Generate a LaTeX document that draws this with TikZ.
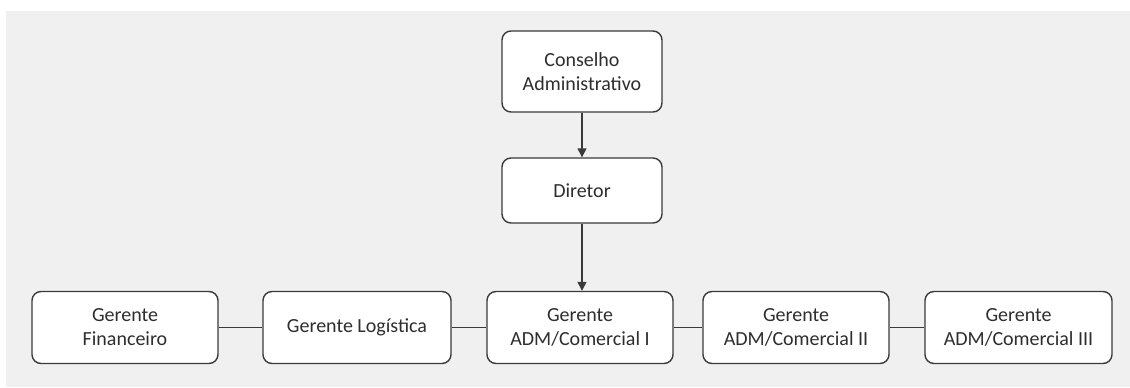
\documentclass[tikz,border=0pt]{standalone}
\usepackage{fontspec}
\setmainfont{Carlito}
\usetikzlibrary{arrows.meta}
\definecolor{bggray}{HTML}{F0F0F0}
\definecolor{linegray}{HTML}{3A3A3A}
\definecolor{textgray}{HTML}{2E2E2E}
\tikzset{
  orgbox/.style={draw=linegray, line width=1.4pt, fill=white, rounded corners=9pt,
    inner sep=0pt, align=center, text=textgray,
    font=\fontsize{20pt}{24pt}\selectfont},
  link/.style={draw=linegray, line width=1.4pt},
  arr/.style={link, -{Triangle[width=9pt,length=9pt]}}
}
\begin{document}
\begin{tikzpicture}[x=1pt,y=-1pt]
\useasboundingbox (0,0) rectangle (1130,388);
\fill[bggray] (6,11) rectangle (1130,387);
\node[orgbox, minimum width=160pt, minimum height=81pt] (cons) at (582,71.5) {Conselho\\Administrativo};
\node[orgbox, minimum width=160pt, minimum height=65pt] (dir) at (582,190.5) {Diretor};
\node[orgbox, minimum width=186pt, minimum height=72pt] (fin) at (125,327.5) {Gerente\\Financeiro};
\node[orgbox, minimum width=188pt, minimum height=72pt] (log) at (357,327.5) {Gerente Logística};
\node[orgbox, minimum width=186pt, minimum height=72pt] (c1) at (580,327.5) {Gerente\\ADM/Comercial I};
\node[orgbox, minimum width=186pt, minimum height=72pt] (c2) at (796,327.5) {Gerente\\ADM/Comercial II};
\node[orgbox, minimum width=187pt, minimum height=72pt] (c3) at (1018.5,327.5) {Gerente\\ADM/Comercial III};
\draw[arr] (cons.south) -- (dir.north);
\draw[arr] (dir.south) -- (dir.south |- c1.north);
\draw[link] (fin.east) -- (log.west);
\draw[link] (log.east) -- (c1.west);
\draw[link] (c1.east) -- (c2.west);
\draw[link] (c2.east) -- (c3.west);
\end{tikzpicture}
\end{document}
